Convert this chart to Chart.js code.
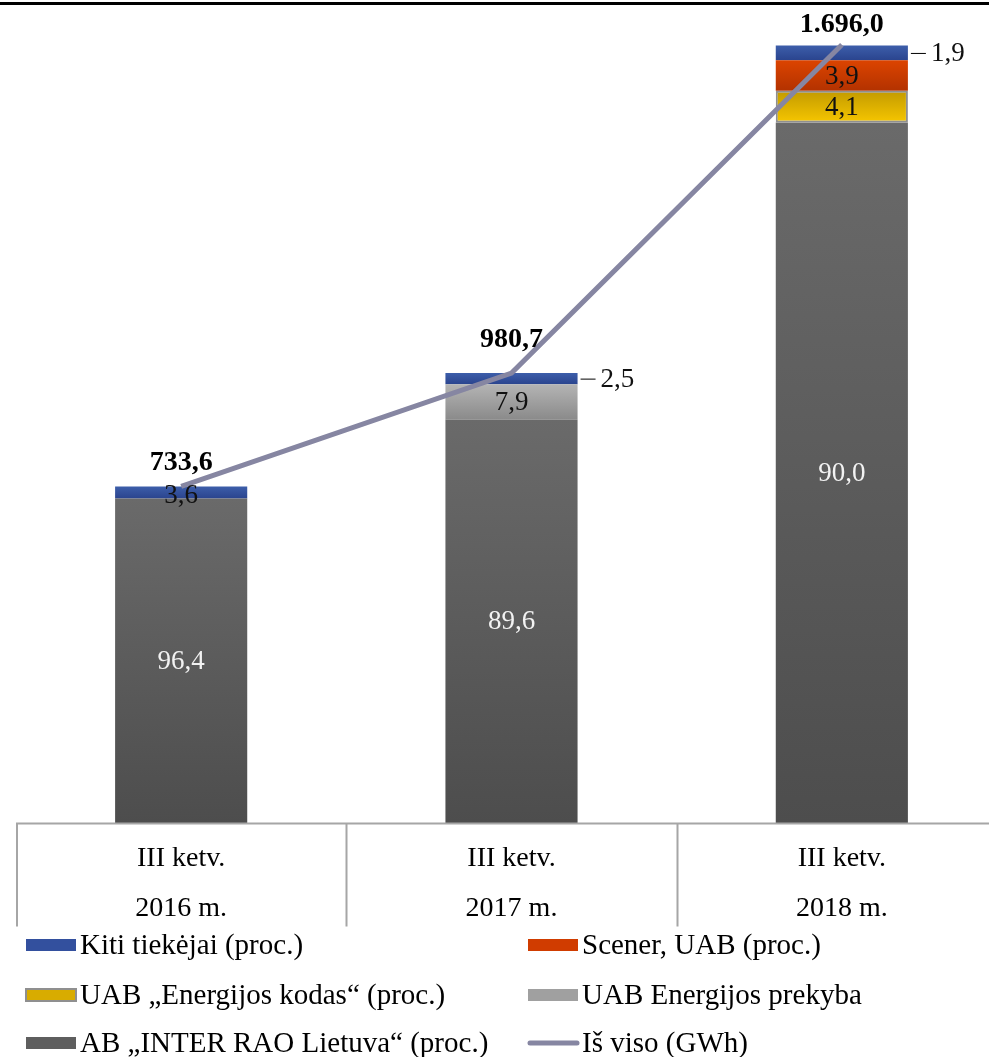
<!DOCTYPE html>
<html>
<head>
<meta charset="utf-8">
<script src="https://cdn.jsdelivr.net/npm/chart.js@4.4.1/dist/chart.umd.min.js"></script>
<style>
html,body{margin:0;padding:0;background:#fff;overflow:hidden;}
#wrap{position:relative;width:1007px;height:1057px;}
canvas{display:block;}
</style>
</head>
<body>
<div id="wrap"><canvas id="c" width="1007" height="1057"></canvas></div>
<script>
// ---- data ----
const quarterLabels = ['III ketv.', 'III ketv.', 'III ketv.'];
const yearLabels = ['2016 m.', '2017 m.', '2018 m.'];
const totalGWh = [733.6, 980.7, 1696.0];
const totalLabels = ['733,6', '980,7', '1.696,0'];
const interRaoPct = [96.4, 89.6, 90.0];
const energijosPrekybaPct = [null, 7.9, null];
const energijosKodasPct = [null, null, 4.1];
const scenerPct = [null, null, 3.9];
const kitiPct = [3.6, 2.5, 1.9];

const toGWh = pct => pct.map((p, i) => p == null ? null : p * totalGWh[i] / 100);
const fmt = v => v.toFixed(1).replace('.', ',');

function grad(top, bottom) {
  return function (c) {
    if (c.type !== 'data') return top;
    const ch = c.chart, ys = ch.scales.y;
    if (!ys || !ch.chartArea) return top;
    const i = c.dataIndex, di = c.datasetIndex;
    let base = 0;
    for (let d = 0; d < di; d++) {
      const ds = ch.data.datasets[d];
      if (ds.type === 'line') continue;
      base += ds.data[i] || 0;
    }
    const v = c.raw || 0;
    const y0 = ys.getPixelForValue(base + v), y1 = ys.getPixelForValue(base);
    if (!isFinite(y0) || !isFinite(y1) || y0 === y1) return top;
    const g = ch.ctx.createLinearGradient(0, y0, 0, y1);
    g.addColorStop(0, top);
    g.addColorStop(1, bottom);
    return g;
  };
}

const SERIF = '"Liberation Serif", "Times New Roman", serif';

const datasets = [
  { label: 'AB „INTER RAO Lietuva“ (proc.)', pct: interRaoPct, data: toGWh(interRaoPct),
    backgroundColor: grad('#6a6a6a', '#4d4d4d'), swatch: '#5e5e5e', labelColor: '#f2f2f2', labelMode: 'inside' },
  { label: 'UAB Energijos prekyba', pct: energijosPrekybaPct, data: toGWh(energijosPrekybaPct),
    backgroundColor: grad('#b4b4b4', '#8a8a8a'), swatch: '#a0a0a0', labelColor: '#111', labelMode: 'inside' },
  { label: 'UAB „Energijos kodas“ (proc.)', pct: energijosKodasPct, data: toGWh(energijosKodasPct),
    backgroundColor: grad('#c29a00', '#f6c600'), borderColor: '#8f8f8f', borderWidth: 2, swatch: '#d8ac00', swatchBorder: '#8f8f8f', labelColor: '#111', labelMode: 'inside' },
  { label: 'Scener, UAB (proc.)', pct: scenerPct, data: toGWh(scenerPct),
    backgroundColor: grad('#dc4400', '#b33200'), swatch: '#d03c00', labelColor: '#111', labelMode: 'inside' },
  { label: 'Kiti tiekėjai (proc.)', pct: kitiPct, data: toGWh(kitiPct),
    backgroundColor: grad('#3d5eaa', '#2a448e'), swatch: '#33509e', labelColor: '#111', labelMode: 'auto' },
  { type: 'line', label: 'Iš viso (GWh)', data: totalGWh, borderColor: '#8686a2', borderWidth: 5,
    pointRadius: 0, tension: 0, order: -1, swatch: '#8686a2', isLine: true }
];
datasets.forEach(d => { if (!d.type) { d.type = 'bar'; d.barPercentage = 0.4; d.categoryPercentage = 1; d.borderSkipped = false; if (!d.borderWidth) d.borderWidth = 0; } });

const legendOrder = [4, 3, 2, 1, 0, 5];

const decorPlugin = {
  id: 'decor',
  beforeDraw(chart) {
    const ctx = chart.ctx;
    ctx.save();
    ctx.fillStyle = '#fff';
    ctx.fillRect(0, 0, chart.width, chart.height);
    ctx.fillStyle = '#000';
    ctx.fillRect(0, 2, 989, 3);
    ctx.restore();
  },
  afterDatasetsDraw(chart) {
    const ctx = chart.ctx;
    ctx.save();
    chart.data.datasets.forEach((ds, di) => {
      if (ds.type !== 'bar') return;
      const meta = chart.getDatasetMeta(di);
      meta.data.forEach((el, i) => {
        const p = ds.pct[i];
        if (p == null) return;
        const h = Math.abs(el.base - el.y);
        const cy = (el.y + el.base) / 2;
        ctx.font = '27px ' + SERIF;
        ctx.textBaseline = 'middle';
        if (ds.labelMode === 'auto' && i > 0) {
          const right = el.x + el.width / 2;
          ctx.strokeStyle = '#000';
          ctx.lineWidth = 1;
          ctx.beginPath();
          ctx.moveTo(right + 3, cy + 0.5);
          ctx.lineTo(right + 18, cy + 0.5);
          ctx.stroke();
          ctx.fillStyle = '#111';
          ctx.textAlign = 'left';
          ctx.fillText(fmt(p), right + 23, cy + 1);
        } else {
          ctx.fillStyle = ds.labelColor;
          ctx.textAlign = 'center';
          ctx.fillText(fmt(p), el.x, cy + (h < 20 ? 3 : 1));
        }
      });
    });
    ctx.restore();
  },
  afterDraw(chart) {
    const ctx = chart.ctx;
    const xs = chart.scales.x, ys = chart.scales.y;
    const area = chart.chartArea;
    ctx.save();
    // totals
    const totalOffsets = [24, 33, 20];
    ctx.font = 'bold 28px ' + SERIF;
    ctx.fillStyle = '#000';
    ctx.textAlign = 'center';
    ctx.textBaseline = 'middle';
    totalGWh.forEach((t, i) => {
      ctx.fillText(totalLabels[i], xs.getPixelForValue(i), ys.getPixelForValue(t) - totalOffsets[i]);
    });
    // category table
    const yb = area.bottom + 0.5;
    ctx.strokeStyle = '#a6a6a6';
    ctx.lineWidth = 2;
    ctx.beginPath();
    ctx.moveTo(area.left, yb);
    ctx.lineTo(989, yb);
    const nCat = quarterLabels.length;
    for (let k = 0; k < nCat; k++) {
      const xl = Math.round(xs.getPixelForValue(k) - (area.right - area.left) / nCat / 2) + 0.5;
      ctx.moveTo(xl + (k === 0 ? 0.5 : 0), yb);
      ctx.lineTo(xl + (k === 0 ? 0.5 : 0), yb + 103);
    }
    ctx.stroke();
    ctx.fillStyle = '#000';
    ctx.font = '28px ' + SERIF;
    ctx.textAlign = 'center';
    ctx.textBaseline = 'middle';
    for (let k = 0; k < nCat; k++) {
      const cx = xs.getPixelForValue(k);
      ctx.fillText(quarterLabels[k], cx, yb + 35);
      ctx.fillText(yearLabels[k], cx, yb + 85);
    }
    // legend
    const colX = [26, 528], rowY = [945, 995, 1043];
    ctx.textAlign = 'left';
    ctx.font = '29px ' + SERIF;
    legendOrder.forEach((di, n) => {
      const ds = chart.data.datasets[di];
      const x = colX[n % 2], y = rowY[Math.floor(n / 2)];
      if (ds.isLine) {
        ctx.strokeStyle = ds.swatch;
        ctx.lineWidth = 5;
        ctx.lineCap = 'round';
        ctx.beginPath();
        ctx.moveTo(x + 2, y);
        ctx.lineTo(x + 49, y);
        ctx.stroke();
      } else {
        ctx.fillStyle = ds.swatch;
        ctx.fillRect(x, y - 6, 50, 12);
        if (ds.swatchBorder) {
          ctx.strokeStyle = ds.swatchBorder;
          ctx.lineWidth = 2;
          ctx.strokeRect(x, y - 6, 50, 12);
        }
      }
      ctx.fillStyle = '#000';
      ctx.fillText(ds.label, x + 54, y + 1);
    });
    ctx.restore();
  }
};

new Chart(document.getElementById('c'), {
  type: 'bar',
  data: { labels: yearLabels, datasets },
  options: {
    responsive: false,
    animation: false,
    devicePixelRatio: 1,
    layout: { padding: { left: 16, right: 0, top: 20, bottom: 234 } },
    plugins: { legend: { display: false }, tooltip: { enabled: false } },
    scales: {
      x: { display: false, stacked: true, offset: true, grid: { display: false } },
      y: { display: false, stacked: true, min: 0, max: 1750, grid: { display: false } }
    }
  },
  plugins: [decorPlugin]
});
</script>
</body>
</html>
